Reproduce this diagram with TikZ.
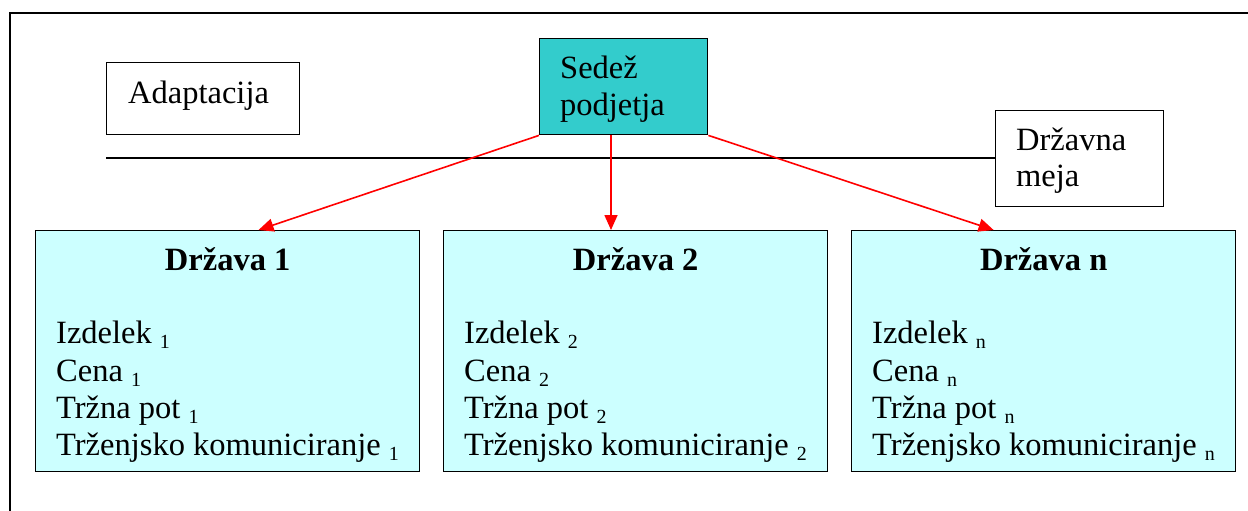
\documentclass[tikz,border=0pt]{standalone}
\usepackage{fontspec}
\setmainfont{Liberation Serif}
\usetikzlibrary{calc,arrows.meta}
\definecolor{hqfill}{HTML}{33CCCC}
\definecolor{cfill}{HTML}{CCFFFF}
\newcommand{\sbs}[1]{\raisebox{-5pt}{\fontsize{20}{20}\selectfont #1}}
\begin{document}
\begin{tikzpicture}[x=1pt,y=-1pt,
  box/.style={draw=black,line width=1.4pt,inner sep=0pt,anchor=north west},
  cbox/.style={box,fill=cfill,minimum width=384pt,minimum height=241pt},
  txt/.style={anchor=base west,inner sep=0pt,font=\fontsize{32.5}{37}\selectfont},
  ttl/.style={anchor=base,inner sep=0pt,font=\fontsize{32.5}{37}\selectfont\bfseries},
  arr/.style={draw=red,line width=1.6pt,-{Triangle[length=15pt,width=13pt]}},
  frame/.style={draw=black,line width=1.8pt}]
\useasboundingbox (0,0) rectangle (1248,511);
% outer frame (top and left only)
\coordinate (fbl) at (10,512);
\coordinate (ftl) at (10,13);
\coordinate (ftr) at (1249,13);
\draw[frame] (fbl) -- (ftl) -- (ftr);
% top boxes
\node[box,minimum width=193pt,minimum height=72pt] (ad) at (106,62) {};
\node[txt] (adt) at (128,103) {Adaptacija};
\node[box,fill=hqfill,minimum width=168pt,minimum height=96pt] (hq) at (539,38) {};
\node[txt] (hqt1) at (560,79) {Sedež};
\node[txt] (hqt2) at (560,115) {podjetja};
\node[box,fill=white,minimum width=168pt,minimum height=96pt] (dm) at (995,110) {};
\node[txt] (dmt1) at (1016,150) {Državna};
\node[txt] (dmt2) at (1016,186) {meja};
\coordinate (ls) at (106,158);
\draw[black,line width=1.4pt] (ls) -- (ls -| dm.west);
% country boxes
\node[cbox] (c1) at (35,230) {};
\node[cbox] (c2) at (443,230) {};
\node[cbox] (c3) at (851,230) {};
\foreach \c/\t/\s in {c1/1/1,c2/2/2,c3/n/n}{
  \node[ttl] (\c t) at ($(\c.north)+(0,40)$) {Država \t};
  \node[txt] (\c a) at ($(\c.north west)+(21,113)$) {Izdelek \sbs{\s}};
  \node[txt] (\c b) at ($(\c.north west)+(21,151)$) {Cena \sbs{\s}};
  \node[txt] (\c c) at ($(\c.north west)+(21,188)$) {Tržna pot \sbs{\s}};
  \node[txt] (\c d) at ($(\c.north west)+(21,225)$) {Trženjsko komuniciranje \sbs{\s}};
}
% arrows
\coordinate (hqm) at ($(hq.south west)+(72,0)$);
\draw[arr] (hq.south west) -- ($(c1.north west)!0.58!(c1.north east)$);
\draw[arr] (hqm) -- (hqm |- c2.north);
\draw[arr] (hq.south east) -- ($(c3.north west)!0.37!(c3.north east)$);
\end{tikzpicture}
\end{document}
